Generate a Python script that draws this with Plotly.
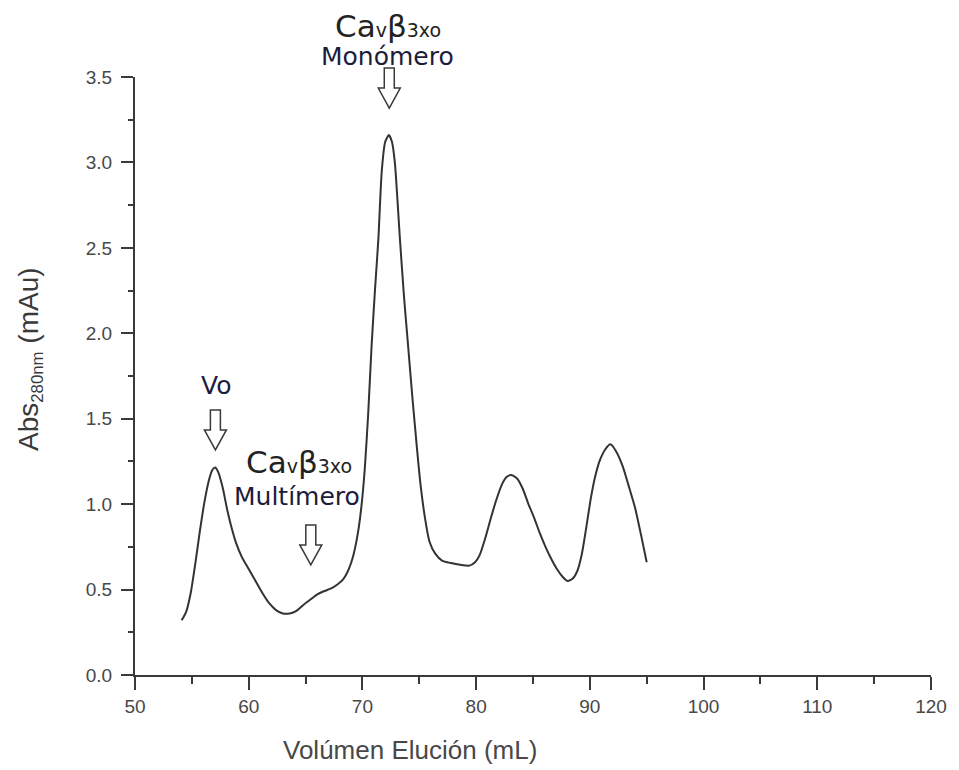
import plotly.graph_objects as go

# Elution volume (mL) and absorbance (mAu)
volume = [54.1, 54.5, 54.9, 55.3, 55.7, 56.1, 56.5, 56.8, 57.05, 57.3, 57.7, 58.1, 58.5, 58.9,
          59.4, 60.0, 60.6, 61.2, 61.8, 62.4, 63.0, 63.6, 64.2, 64.8, 65.4, 66.0, 66.6, 67.2,
          67.8, 68.3, 68.8, 69.2, 69.6, 69.9, 70.2, 70.5, 70.8, 71.1, 71.4, 71.7, 72.0, 72.33,
          72.6, 72.85, 73.3, 73.65, 74.0, 74.4, 74.75, 75.1, 75.5, 75.9, 76.4, 77.0, 77.8, 78.6,
          79.4, 79.9, 80.3, 80.8, 81.3, 81.8, 82.3, 82.7, 83.1, 83.6, 84.1, 84.6, 85.1, 85.6,
          86.1, 86.6, 87.1, 87.6, 88.05, 88.5, 88.9, 89.3, 89.7, 90.1, 90.5, 90.9, 91.35, 91.8,
          92.3, 92.9, 93.4, 93.97, 94.5, 95.0]
absorbance = [0.32, 0.37, 0.48, 0.65, 0.84, 1.01, 1.14, 1.20, 1.215, 1.19, 1.10, 0.97, 0.86, 0.77,
              0.69, 0.62, 0.55, 0.48, 0.42, 0.38, 0.36, 0.36, 0.375, 0.41, 0.44, 0.47, 0.49, 0.505,
              0.53, 0.56, 0.62, 0.70, 0.83, 0.98, 1.20, 1.52, 1.92, 2.25, 2.55, 2.95, 3.12, 3.16,
              3.12, 3.00, 2.55, 2.22, 1.94, 1.62, 1.36, 1.12, 0.92, 0.78, 0.71, 0.67, 0.655, 0.645,
              0.64, 0.66, 0.70, 0.80, 0.92, 1.03, 1.12, 1.16, 1.17, 1.15, 1.09, 1.00, 0.92, 0.83,
              0.75, 0.68, 0.62, 0.575, 0.55, 0.565, 0.61, 0.71, 0.87, 1.04, 1.17, 1.26, 1.32, 1.35,
              1.31, 1.22, 1.11, 0.98, 0.82, 0.66]

x_ticks = [50, 60, 70, 80, 90, 100, 110, 120]
y_ticks = [0.0, 0.5, 1.0, 1.5, 2.0, 2.5, 3.0, 3.5]
y_tick_labels = ["0.0", "0.5", "1.0", "1.5", "2.0", "2.5", "3.0", "3.5"]

# peak markers: x position of arrow (mL) and arrow tip height (paper fraction)
arrow_x = [72.36, 57.07, 65.46]
arrow_tip = [0.948, 0.3763, 0.184]

AXIS_COLOR = "#3a3a3a"
TEXT_GRAY = "#484848"
TICK_FONT = dict(family="Liberation Sans, Arial", size=19, color=TEXT_GRAY)
LABEL_FONT = "DejaVu Sans, Verdana"

fig = go.Figure()
fig.add_trace(go.Scatter(
    x=volume, y=absorbance, mode="lines",
    line=dict(color="#333333", width=2, shape="spline", smoothing=0.6),
    showlegend=False, hoverinfo="skip"))

fig.update_layout(
    width=959, height=770,
    margin=dict(l=135, r=22, t=77, b=95),
    paper_bgcolor="white", plot_bgcolor="white",
    showlegend=False,
)

fig.update_xaxes(
    range=[50, 120], tickvals=x_ticks, ticktext=[str(v) for v in x_ticks],
    showgrid=False, zeroline=False, showline=True, linecolor=AXIS_COLOR, linewidth=2,
    ticks="outside", ticklen=13, tickwidth=2, tickcolor=AXIS_COLOR,
    minor=dict(dtick=5, tick0=50, ticks="outside", ticklen=7, tickwidth=2, tickcolor=AXIS_COLOR),
    tickfont=TICK_FONT,
)
fig.update_yaxes(
    range=[0, 3.5], tickvals=y_ticks, ticktext=y_tick_labels,
    showgrid=False, zeroline=False, showline=True, linecolor=AXIS_COLOR, linewidth=2,
    ticks="outside", ticklen=12, tickwidth=2, tickcolor=AXIS_COLOR,
    minor=dict(dtick=0.25, tick0=0, ticks="outside", ticklen=5, tickwidth=2, tickcolor=AXIS_COLOR),
    tickfont=TICK_FONT, ticklabelstandoff=5,
)

# axis titles placed as annotations (offset like the original)
fig.add_annotation(x=74.19, y=-0.1254, xref="x", yref="paper", text="Volúmen Elución (mL)",
                   showarrow=False, xanchor="center", yanchor="middle",
                   font=dict(family="Liberation Sans, Arial", size=26, color=TEXT_GRAY))
fig.add_annotation(x=-0.131, y=0.528, xref="paper", yref="paper", textangle=-90,
                   text="Abs<span style='font-size:24px'><sub>280nm</sub></span> (mAu)",
                   showarrow=False, xanchor="center", yanchor="middle",
                   font=dict(family="Liberation Sans, Arial", size=28, color="#3a3a3a"))

# hollow down-arrows (geometry in pixels, anchored at the peak position)
arrow_path = "M0,0 L-11,20 L-5,20 L-5,40 L5,40 L5,20 L11,20 Z"
for ax_, tip in zip(arrow_x, arrow_tip):
    fig.add_shape(type="path", xref="x", yref="paper", xsizemode="pixel", ysizemode="pixel",
                  xanchor=ax_, yanchor=tip, path=arrow_path,
                  fillcolor="white", line=dict(color="#3a3a3a", width=1.5))

def sub_label(sz):
    return ("Ca<span style='font-size:%dpx'>v</span>β<span style='font-size:%dpx'>3xo</span>" % (sz, sz))

annots = [
    (72.27, 1.0853, sub_label(19), 31, "#222222"),
    (72.18, 1.0351, "Monómero", 25, "#1c1c3c"),
    (57.16, 0.4833, "Vo", 25, "#1c1c3c"),
    (64.41, 0.3562, sub_label(19), 31, "#222222"),
    (64.24, 0.2993, "Multímero", 25, "#1c1c3c"),
]
for x, y, t, s, c in annots:
    fig.add_annotation(x=x, y=y, xref="x", yref="paper", text=t, showarrow=False,
                       xanchor="center", yanchor="middle",
                       font=dict(family=LABEL_FONT, size=s, color=c))

fig.write_html("out.html")
